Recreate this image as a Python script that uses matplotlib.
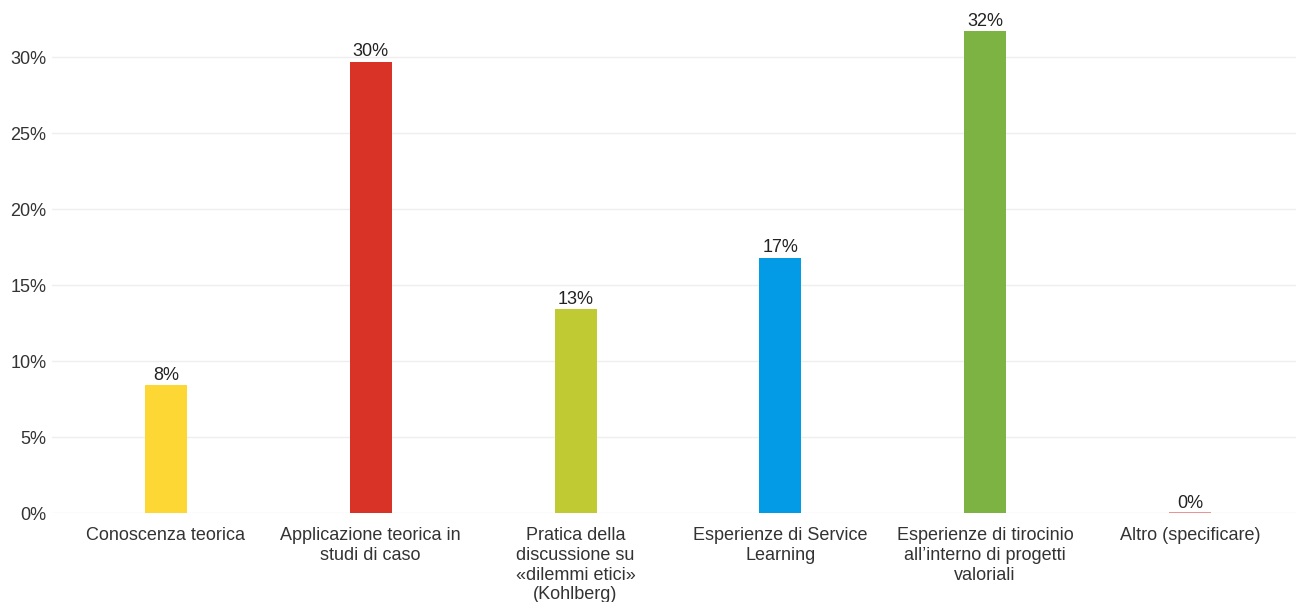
import matplotlib
matplotlib.use('Agg')
import matplotlib.pyplot as plt
from matplotlib.ticker import FuncFormatter

# percentages per answer option
categories = ['Conoscenza teorica',
              'Applicazione teorica in\nstudi di caso',
              'Pratica della\ndiscussione su\n«dilemmi etici»\n(Kohlberg)',
              'Esperienze di Service\nLearning',
              'Esperienze di tirocinio\nall\u2019interno di progetti\nvaloriali',
              'Altro (specificare)']
values = [8.4, 29.7, 13.4, 16.8, 31.7, 0.0]
colors = ['#FDD835', '#D93226', '#C0CA33', '#039BE5', '#7CB342', '#E57373']
yticks = [0, 5, 10, 15, 20, 25, 30]

plt.rcParams['font.family'] = ['Liberation Sans', 'DejaVu Sans']

fig = plt.figure(figsize=(12.96, 6.02), dpi=100)
ax = fig.add_axes([0.040, 0.1478, 0.960, 0.8456])

x = list(range(len(categories)))
bars = ax.bar(x, values, width=0.205, color=colors, zorder=3)
# the empty option still shows as a thin line on the baseline
bars[5].set_edgecolor('#E88080')
bars[5].set_linewidth(1.2)

for b, v in zip(bars, values):
    ax.text(b.get_x() + b.get_width() / 2, v + 0.1, '%d%%' % round(v),
            ha='center', va='bottom', fontsize=13, color='#222222')

ax.set_xlim(-0.557, 5.518)
ax.set_ylim(0, 33.5)
ax.set_yticks(yticks)
ax.yaxis.set_major_formatter(FuncFormatter(lambda v, p: '%d%%' % v))
ax.set_xticks(x)
ax.set_xticklabels(categories, fontsize=13, color='#333333', linespacing=1.22)
ax.tick_params(axis='y', labelsize=13, labelcolor='#333333', length=0, pad=4)
ax.tick_params(axis='x', length=0, pad=10)
ax.grid(axis='y', color='#EEEEEE', linewidth=1, zorder=0)
for s in ax.spines.values():
    s.set_visible(False)

fig.savefig('out.png', dpi=100)
